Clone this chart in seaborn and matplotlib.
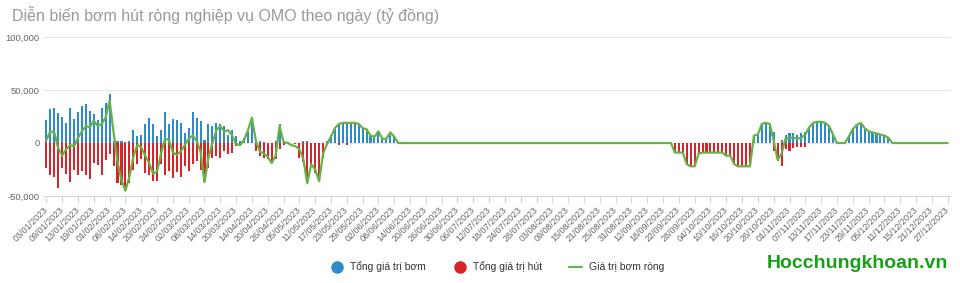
import matplotlib
matplotlib.use("Agg")
import matplotlib.pyplot as plt
import seaborn as sns
import pandas as pd
from matplotlib.lines import Line2D
from matplotlib.ticker import FuncFormatter

# ---------------- data (tỷ đồng) ----------------
tick_labels = [
    "03/01/2023", "09/01/2023", "13/01/2023", "19/01/2023", "01/02/2023", "08/02/2023",
    "14/02/2023", "20/02/2023", "24/02/2023", "02/03/2023", "08/03/2023", "14/03/2023",
    "20/03/2023", "14/04/2023", "20/04/2023", "26/04/2023", "05/05/2023", "11/05/2023",
    "17/05/2023", "23/05/2023", "29/05/2023", "02/06/2023", "08/06/2023", "14/06/2023",
    "20/06/2023", "26/06/2023", "30/06/2023", "06/07/2023", "12/07/2023", "18/07/2023",
    "24/07/2023", "28/07/2023", "03/08/2023", "09/08/2023", "15/08/2023", "21/08/2023",
    "25/08/2023", "31/08/2023", "12/09/2023", "18/09/2023", "22/09/2023", "28/09/2023",
    "04/10/2023", "10/10/2023", "16/10/2023", "20/10/2023", "26/10/2023", "01/11/2023",
    "07/11/2023", "13/11/2023", "17/11/2023", "23/11/2023", "29/11/2023", "05/12/2023",
    "11/12/2023", "15/12/2023", "21/12/2023", "27/12/2023",
]

inject = [
    22000, 32000, 33000, 28000, 25000, 19000, 33000, 23000, 29000, 35000,
    37000, 30000, 27000, 22000, 33000, 38000, 46000, 2000, 1500, 1500,
    1000, 2000, 12000, 7000, 8000, 18000, 24000, 18000, 7000, 12000,
    29000, 18000, 23000, 22000, 19000, 9000, 14000, 29000, 24000, 21000,
    3000, 18000, 16000, 19000, 18000, 16000, 8000, 12000, 7000, 2000,
    5000, 10000, 22000, 3000, 1500, 1000, 0, 0, 2000, 18000,
    2000, 1000, 0, 0, 0, 2000, 1500, 0, 0, 0,
    0, 2000, 8000, 14000, 18000, 19000, 19000, 19000, 19000, 18000,
    14000, 13000, 7000, 6000, 11000, 4000, 4000, 10000, 6000, 0,
    0, 0, 0, 0, 0, 0, 0, 0, 0, 0,
    0, 0, 0, 0, 0, 0, 0, 0, 0, 0,
    0, 0, 0, 0, 0, 0, 0, 0, 0, 0,
    0, 0, 0, 0, 0, 0, 0, 0, 0, 0,
    0, 0, 0, 0, 0, 0, 0, 0, 0, 0,
    0, 0, 0, 0, 0, 0, 0, 0, 0, 0,
    0, 0, 0, 0, 0, 0, 0, 0, 0, 0,
    0, 0, 0, 0, 0, 0, 0, 0, 0, 0,
    0, 0, 0, 0, 0, 0, 0, 0, 0, 7000,
    8000, 18000, 19000, 18000, 10000, 0, 3000, 8000, 9000, 9000,
    8000, 9000, 10000, 15000, 19000, 20000, 20000, 19000, 16000, 8000,
    0, 0, 0, 6000, 13000, 17000, 19000, 14000, 11000, 10000,
    9000, 8000, 7000, 5000, 0, 0, 0, 0, 0, 0,
    0, 0, 0, 0, 0, 0, 0, 0, 0,
]

withdraw = [
    -24000, -30000, -32000, -42000, -24000, -29000, -37000, -25000, -30000, -26000,
    -30000, -34000, -19000, -21000, -30000, -16000, -10000, -22000, -38000, -40000,
    -45000, -38000, -25000, -20000, -15000, -28000, -30000, -36000, -36000, -20000,
    -30000, -26000, -33000, -27000, -32000, -22000, -26000, -20000, -17000, -25000,
    -36000, -24000, -14000, -12000, -14000, -8000, -10000, -9000, -3000, -2000,
    0, 0, 0, -8000, -12000, -14000, -15000, -18000, -15000, -6000,
    -2000, 0, 0, -1000, -14000, -18000, -36000, -22000, -28000, -34000,
    -14000, 0, 0, 0, -2000, 0, -2000, 0, 0, 0,
    0, 0, 0, 0, 0, 0, 0, 0, 0, 0,
    0, 0, 0, 0, 0, 0, 0, 0, 0, 0,
    0, 0, 0, 0, 0, 0, 0, 0, 0, 0,
    0, 0, 0, 0, 0, 0, 0, 0, 0, 0,
    0, 0, 0, 0, 0, 0, 0, 0, 0, 0,
    0, 0, 0, 0, 0, 0, 0, 0, 0, 0,
    0, 0, 0, 0, 0, 0, 0, 0, 0, 0,
    0, 0, 0, 0, 0, 0, 0, 0, 0, -9000,
    -9000, -9000, -20000, -22000, -22000, -10000, -9000, -9000, -9000, -9000,
    -9000, -9000, -12000, -12000, -20000, -22000, -22000, -22000, -22000, 0,
    0, 0, 0, 0, -8000, -17000, -22000, -6000, -8000, -5000,
    -4000, -4000, -4000, 0, 0, 0, 0, 0, 0, 0,
    0, 0, 0, 0, 0, 0, 0, 0, 0, 0,
    0, 0, 0, 0, 0, 0, 0, 0, 0, 0,
    0, 0, 0, 0, 0, 0, 0, 0, 0,
]

net = [
    3000, 11000, 10000, -5000, -12000, -6000, -2000, -3000, 5000, 11000,
    16000, 15000, 21000, 16000, 18000, 24000, 40000, 10000, -18000, -35000,
    -45000, -32000, -13000, -2000, -4000, -12000, -19000, -29000, -27000, -10000,
    4000, 3000, -9000, -11000, -8000, -2000, 4000, 7000, 2000, -8000,
    -37000, -14000, 0, 12000, 16000, 11000, 12000, 7000, -1000, -2000,
    3000, 12000, 24000, 2000, -8000, -10000, -13000, -19000, -12000, 16000,
    1000, 0, -2000, -3000, -6000, -15000, -38000, -20000, -25000, -36000,
    -10000, -1000, 6000, 14000, 18000, 19000, 19000, 19000, 19000, 18000,
    14000, 13000, 7000, 6000, 11000, 4000, 4000, 10000, 6000, 0,
    0, 0, 0, 0, 0, 0, 0, 0, 0, 0,
    0, 0, 0, 0, 0, 0, 0, 0, 0, 0,
    0, 0, 0, 0, 0, 0, 0, 0, 0, 0,
    0, 0, 0, 0, 0, 0, 0, 0, 0, 0,
    0, 0, 0, 0, 0, 0, 0, 0, 0, 0,
    0, 0, 0, 0, 0, 0, 0, 0, 0, 0,
    0, 0, 0, 0, 0, 0, 0, 0, 0, -9000,
    -9000, -9000, -20000, -22000, -22000, -10000, -9000, -9000, -9000, -9000,
    -9000, -9000, -12000, -12000, -20000, -22000, -22000, -22000, -22000, 7000,
    8000, 18000, 19000, 18000, 2000, -16000, -10000, 4000, 5000, 5000,
    4000, 5000, 8000, 15000, 19000, 20000, 20000, 19000, 16000, 8000,
    0, 0, 0, 6000, 13000, 17000, 19000, 14000, 11000, 10000,
    9000, 8000, 7000, 5000, 0, 0, 0, 0, 0, 0,
    0, 0, 0, 0, 0, 0, 0, 0, 0,
]

series_names = ["Tổng giá trị bơm", "Tổng giá trị hút", "Giá trị bơm ròng"]
title = "Diễn biến bơm hút ròng nghiệp vụ OMO theo ngày (tỷ đồng)"

# ---------------- style ----------------
BLUE = "#2e8bc9"
RED = "#d9232b"
GREEN = "#67b246"

sns.set_theme(style="white")
plt.rcParams["font.family"] = ["Liberation Sans", "DejaVu Sans"]

n = len(net)
days = list(range(n))

fig = plt.figure(figsize=(9.6, 2.83), dpi=100)
ax = fig.add_axes([44 / 960, 1 - 196 / 283, (950 - 44) / 960, (196 - 37) / 283])

df = pd.DataFrame({
    "day": days + days,
    "value": inject + withdraw,
    "series": [series_names[0]] * n + [series_names[1]] * n,
})

sns.barplot(data=df, x="day", y="value", hue="series", hue_order=series_names[:2],
            palette=[BLUE, RED], native_scale=True, width=0.52, dodge=False,
            errorbar=None, saturation=1, legend=False, ax=ax, zorder=2,
            edgecolor="none", linewidth=0.0001)
sns.lineplot(x=days, y=net, color=GREEN, linewidth=1.6, ax=ax, zorder=3)

ax.set_xlim(-0.6, n - 0.4)
ax.set_ylim(-50000, 100000)
ax.set_yticks([-50000, 0, 50000, 100000])
ax.yaxis.set_major_formatter(FuncFormatter(lambda v, p: f"{int(v):,}"))
ax.yaxis.grid(True, color="#e6e6e6", linewidth=0.8)
ax.xaxis.grid(False)
ax.set_axisbelow(True)
for s in ["top", "right", "left"]:
    ax.spines[s].set_visible(False)
ax.spines["bottom"].set_color("#ccd6eb")
ax.spines["bottom"].set_linewidth(0.8)

ax.set_xticks(days[::4])
ax.set_xticklabels(tick_labels, rotation=45, ha="right", va="center",
                   rotation_mode="anchor")
ax.tick_params(axis="x", length=5, width=0.8, color="#ccd6eb", direction="out",
               labelsize=6.5, labelcolor="#666666", pad=4, bottom=True)
ax.tick_params(axis="y", length=0, labelsize=6.8, labelcolor="#666666", pad=3)
ax.set_xlabel("")
ax.set_ylabel("")

fig.text(12 / 960, 1 - 15 / 283, title, fontsize=11.5, color="#9a9a9a",
         ha="left", va="center")

handles = [
    Line2D([], [], marker="o", linestyle="", markersize=8, markerfacecolor=BLUE,
           markeredgecolor=BLUE),
    Line2D([], [], marker="o", linestyle="", markersize=8, markerfacecolor=RED,
           markeredgecolor=RED),
    Line2D([], [], color=GREEN, linewidth=1.5),
]
fig.legend(handles, series_names, loc="center", bbox_to_anchor=(497 / 960, 1 - 267 / 283),
           ncol=3, frameon=False, fontsize=7.5, labelcolor="#333333",
           handlelength=1.3, handletextpad=0.6, columnspacing=2.6)

fig.text(948 / 960, 1 - 264 / 283, "Hocchungkhoan.vn", fontsize=14,
         fontweight="bold", color="#17a017", ha="right", va="center")

fig.savefig("out.png", dpi=100)
